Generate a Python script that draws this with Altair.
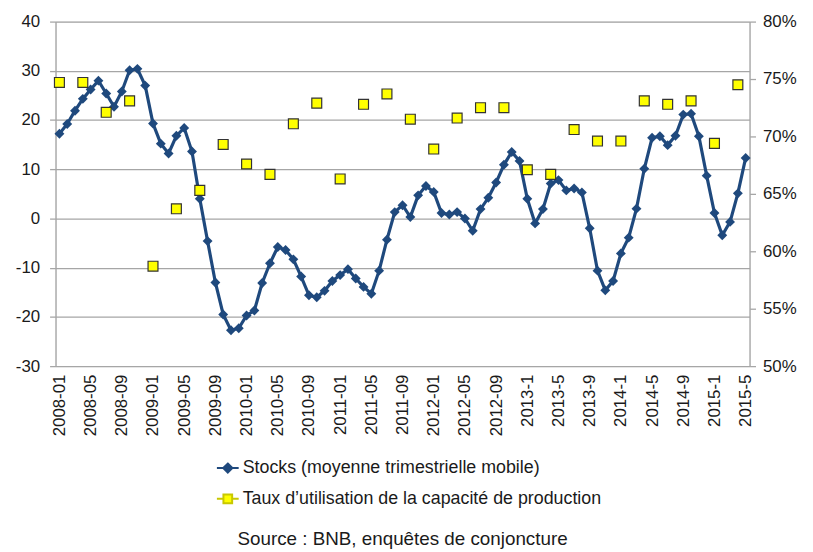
import altair as alt
import pandas as pd

# Category labels (monthly, 2008-01 .. 2015-5)
months = []
for yr in range(2008, 2016):
    for mo in range(1, 13):
        if yr == 2015 and mo > 5:
            break
        months.append(f"{yr}-{mo:02d}" if yr <= 2012 else f"{yr}-{mo}")

tick_labels = months[::4]

# Stocks (3-month moving average), left axis
stocks = [
    17.2, 19.2, 21.9, 24.3, 26.2, 28.0, 25.4, 22.7, 25.8, 30.1, 30.4, 27.0,
    19.3, 15.2, 13.2, 16.8, 18.4, 13.6, 4.0, -4.6, -13.0, -19.5, -22.7, -22.3,
    -19.7, -18.7, -13.1, -9.1, -5.8, -6.4, -8.3, -11.8, -15.6, -16.0, -14.7, -12.7,
    -11.5, -10.3, -12.2, -13.9, -15.3, -10.6, -4.3, 1.3, 2.7, 0.3, 4.7, 6.6,
    5.4, 1.1, 0.8, 1.3, 0.0, -2.5, 1.9, 4.2, 7.3, 10.9, 13.5, 11.7,
    4.0, -1.0, 1.9, 7.1, 7.8, 5.7, 6.1, 5.3, -2.0, -10.6, -14.6, -12.7,
    -7.1, -3.9, 2.0, 10.1, 16.4, 16.7, 14.9, 16.8, 21.1, 21.3, 16.7, 8.7,
    1.1, -3.4, -0.7, 5.1, 12.3,
]

# Capacity utilisation rate (quarterly), right axis, in %
taux_months = months[::3]
taux = [
    74.7, 74.7, 72.1, 73.1, 58.7, 63.7, 65.3, 69.3, 67.6, 66.7,
    71.1, 72.9, 66.3, 72.8, 73.7, 71.5, 68.9, 71.6, 72.5, 72.5,
    67.1, 66.7, 70.6, 69.6, 69.6, 73.1, 72.8, 73.1, 69.4, 74.5,
]

series_names = [
    "Stocks (moyenne trimestrielle mobile)",
    "Taux d\u2019utilisation de la capacit\u00e9 de production",
]

FONT = "Liberation Sans, Arial, sans-serif"
BLUE = "#1F497D"
YELLOW = "#FFFF00"
GRID = "#A6A6A6"
TXT = "#1a1a1a"

df_s = pd.DataFrame({"mois": months, "stocks": stocks})
df_t = pd.DataFrame({"mois": taux_months, "taux": taux})
df_l = pd.DataFrame({"serie": series_names})

x_enc = alt.X(
    "mois:O",
    sort=months,
    scale=alt.Scale(type="point", padding=0.5),
    axis=alt.Axis(
        values=tick_labels, labelAngle=-90, ticks=False, domain=False,
        labelPadding=8, labelFontSize=17, labelColor=TXT, labelFont=FONT,
        title=None, grid=False,
    ),
)

stocks_layer = alt.Chart(df_s).mark_line(
    color=BLUE, strokeWidth=3.2,
    point=alt.OverlayMarkDef(shape="diamond", size=100, filled=True, color=BLUE, opacity=1),
).encode(
    x=x_enc,
    y=alt.Y(
        "stocks:Q",
        scale=alt.Scale(domain=[-30, 40], nice=False, zero=False),
        axis=alt.Axis(
            values=list(range(-30, 41, 10)), orient="left", grid=True,
            gridColor=GRID, gridWidth=1.3, domain=True, domainColor=GRID,
            domainWidth=1.3, ticks=True, tickSize=6, tickColor=GRID, tickWidth=1.3,
            labelPadding=10, labelFontSize=17, labelColor=TXT, labelFont=FONT,
            labelExpr="toString(datum.value)",
            title=None, minExtent=48, maxExtent=48,
        ),
    ),
)

taux_layer = alt.Chart(df_t).mark_point(
    shape="square", size=100, filled=True, fill=YELLOW, stroke="#333333",
    strokeWidth=1.2, opacity=1,
).encode(
    x=alt.X("mois:O", sort=months),
    y=alt.Y(
        "taux:Q",
        scale=alt.Scale(domain=[50, 80], nice=False, zero=False),
        axis=alt.Axis(
            values=list(range(50, 81, 5)), orient="right", grid=False,
            domain=True, domainColor=GRID, domainWidth=1.3,
            ticks=True, tickSize=6, tickColor=GRID, tickWidth=1.3,
            labelPadding=7, labelFontSize=17, labelColor=TXT, labelFont=FONT,
            labelExpr="datum.value + '%'", title=None,
        ),
    ),
)

leg = alt.Legend(
    title=None, orient="none", legendX=162, legendY=439, direction="vertical",
    symbolSize=484, symbolStrokeWidth=2, rowPadding=10, labelOffset=3,
    labelFontSize=18, labelFont=FONT, labelColor=TXT, labelLimit=1000,
)

path_stocks = "M-1,0L1,0M0,-0.42L0.42,0L0,0.42L-0.42,0Z"
path_taux = "M-1,0L-0.4,0M0.4,0L1,0M-0.4,-0.4L0.4,-0.4L0.4,0.4L-0.4,0.4Z"

legend_layer = alt.Chart(df_l).mark_point(opacity=1, filled=False).encode(
    shape=alt.Shape("serie:N", scale=alt.Scale(domain=series_names, range=[path_stocks, path_taux]), legend=leg),
    fill=alt.Fill("serie:N", scale=alt.Scale(domain=series_names, range=[BLUE, YELLOW]), legend=leg),
    stroke=alt.Stroke("serie:N", scale=alt.Scale(domain=series_names, range=[BLUE, "#C8C800"]), legend=leg),
).transform_filter("false")

chart = alt.layer(stocks_layer, taux_layer, legend_layer).resolve_scale(
    y="independent"
).properties(
    width=701,
    height=348,
    autosize=alt.AutoSizeParams(type="none"),
    padding={"left": 48, "top": 11, "right": 56, "bottom": 185},
    title=alt.TitleParams(
        "Source : BNB, enqu\u00eates de conjoncture", orient="bottom",
        anchor="middle", frame="group", offset=23, fontSize=19,
        font=FONT, fontWeight="normal", color=TXT,
    ),
).configure_view(stroke=None).configure(background="white")

chart.save("out.html", embed_options={"renderer": "svg", "actions": False})
